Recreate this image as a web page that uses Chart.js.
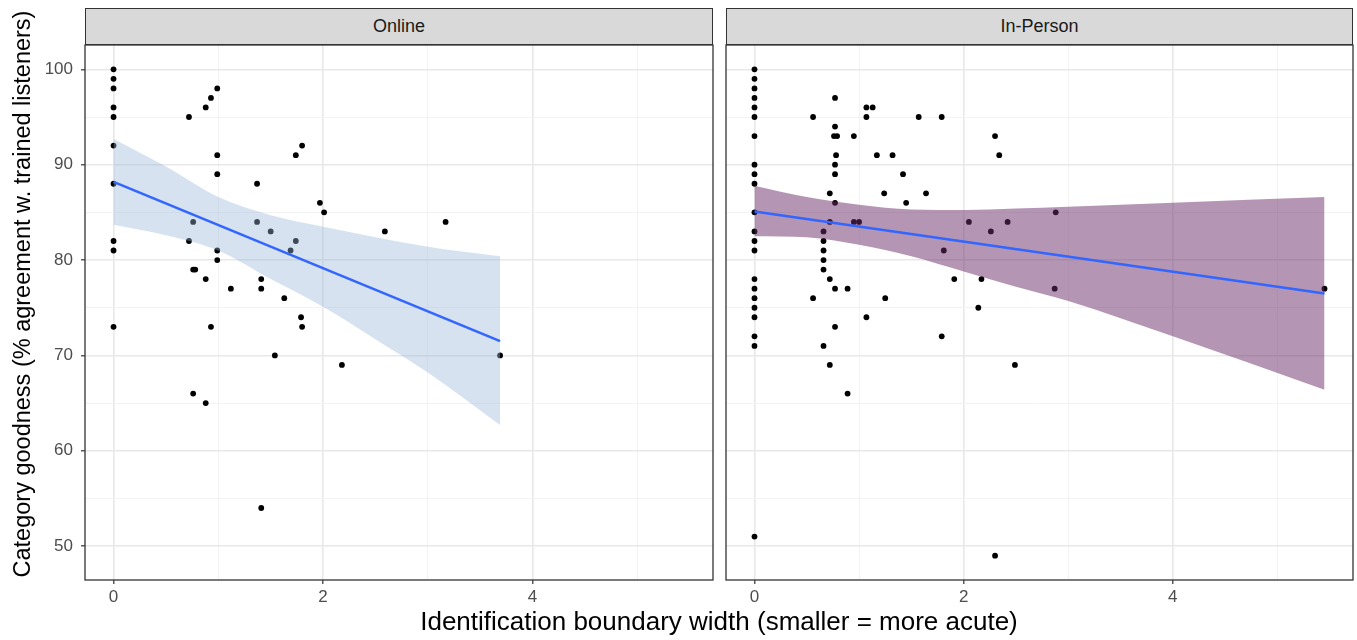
<!DOCTYPE html>
<html>
<head>
<meta charset="utf-8">
<script src="https://cdn.jsdelivr.net/npm/chart.js@4.4.1/dist/chart.umd.min.js"></script>
<style>
  body { margin: 0; background: #fff; font-family: "Liberation Sans", Arial, sans-serif; }
  #wrap { position: relative; width: 1357px; height: 640px; overflow: hidden; }
  #wrap canvas { position: absolute; }
  .strip {
    position: absolute; top: 8px; height: 37px; box-sizing: border-box;
    background: #d9d9d9; border: 1.3px solid #333; color: #1a1a1a;
    font-size: 18px; line-height: 35px; text-align: center;
  }
  #xtitle {
    position: absolute; left: 85px; width: 1268px; top: 606px;
    font-size: 26px; line-height: 30px; text-align: center; color: #000;
  }
  #ytitle {
    position: absolute; left: -278px; top: 279px; width: 600px; height: 30px;
    font-size: 23.5px; line-height: 30px; text-align: center; color: #000;
    transform: rotate(-90deg); white-space: nowrap;
  }
</style>
</head>
<body>
<div id="wrap">
  <canvas id="onlineChart" width="718" height="575" style="left:0;top:40px"></canvas>
  <canvas id="personChart" width="637" height="575" style="left:720px;top:40px"></canvas>
  <div class="strip" style="left:85px;width:628px">Online</div>
  <div class="strip" style="left:726px;width:627px">In-Person</div>
  <div id="ytitle">Category goodness (% agreement w. trained listeners)</div>
  <div id="xtitle">Identification boundary width (smaller = more acute)</div>
</div>
<script>
/* ── Data ───────────────────────────────────────────────────── */
const onlineX = [0, 0, 0, 0, 0, 0, 0, 0, 0, 0,
    0.72, 0.88, 0.93, 0.99, 0.99, 0.99, 1.37, 1.74, 1.80, 1.97, 2.01, 2.59,
    0.76, 0.72, 1.37, 1.50, 1.74, 1.69, 0.99, 0.99, 0.76, 0.78, 0.88, 1.12,
    1.41, 1.41, 1.63, 1.79, 1.80, 0.93, 1.54, 2.18, 0.76, 0.88, 1.41, 3.17, 3.69];
const onlineY = [100, 99, 98, 96, 95, 92, 88, 82, 81, 73,
    95, 96, 97, 98, 91, 89, 88, 91, 92, 86, 85, 83,
    84, 82, 84, 83, 82, 81, 81, 80, 79, 79, 78, 77,
    78, 77, 76, 74, 73, 73, 70, 69, 66, 65, 54, 84, 70];

const personX = [0, 0, 0, 0, 0, 0, 0, 0, 0, 0, 0, 0, 0, 0, 0, 0, 0, 0, 0, 0, 0, 0,
    0.77, 0.56, 0.77, 0.76, 0.79, 0.95, 0.78, 0.77, 0.77, 0.72, 0.77, 0.72, 0.95, 1.00,
    0.66, 0.66, 0.66, 0.66, 0.66, 0.72, 0.77, 0.89, 0.56, 0.77, 0.66, 0.72, 0.89,
    1.07, 1.13, 1.07, 1.57, 1.79, 1.17, 1.32, 1.42, 1.24, 1.64, 1.45, 2.05, 1.81,
    1.91, 1.25, 1.07, 1.79,
    2.30, 2.34, 2.88, 2.42, 2.26, 2.17, 2.87, 2.14, 2.49, 2.30, 5.45];
const personY = [100, 99, 98, 97, 96, 95, 93, 90, 89, 88, 85, 83, 82, 81, 78, 77, 76, 75, 74, 72, 71, 51,
    97, 95, 94, 93, 93, 93, 91, 90, 89, 87, 86, 84, 84, 84,
    83, 82, 81, 80, 79, 78, 77, 77, 76, 73, 71, 69, 66,
    96, 96, 95, 95, 95, 91, 91, 89, 87, 87, 86, 84, 81,
    78, 76, 74, 72,
    93, 91, 85, 84, 83, 78, 77, 75, 69, 49, 77];

// linear fit + confidence band, read at a few x positions
const onlineBandX     = [0, 0.5, 1, 1.5, 2, 2.5, 3, 3.69];
const onlineBandUpper = [92.7, 89.8, 86.6, 84.7, 83.5, 82.4, 81.4, 80.4];
const onlineBandLower = [83.7, 82.6, 81.0, 78.0, 75.1, 71.7, 68.2, 62.7];
const onlineFitX = [0, 3.69];
const onlineFitY = [88.2, 71.5];

const personBandX     = [0, 0.5, 1, 1.5, 2, 2.5, 3, 4, 5.45];
const personBandUpper = [87.8, 86.6, 85.8, 85.3, 85.25, 85.4, 85.6, 86.0, 86.6];
const personBandLower = [82.5, 82.4, 81.6, 80.4, 78.8, 77.2, 75.7, 72.0, 66.4];
const personFitX = [0, 5.45];
const personFitY = [85.1, 76.5];

const xGridValues  = [0, 1, 2, 3, 4, 5];
const xLabelValues = [0, 2, 4];
const yGridValues  = [50, 55, 60, 65, 70, 75, 80, 85, 90, 95, 100];
const yLabelValues = [50, 60, 70, 80, 90, 100];

/* ── Shared styling ─────────────────────────────────────────── */
const palette = {
    point:     '#000000',
    fit:       '#3366FF',
    onlineFill:'rgba(152, 183, 217, 0.4)',
    personFill:'rgba(105, 45, 105, 0.5)',
    gridMajor: '#e8e8e8',
    gridMinor: '#f2f2f2',
    axis:      '#333333',
    text:      '#4d4d4d',
};
const xRange = { min: -0.2725, max: 5.7225 };
const yRange = { min: 46.45, max: 102.55 };

const pts = (xs, ys) => xs.map((x, i) => ({ x, y: ys[i] }));

const panelBorder = {
    id: 'panelBorder',
    afterDraw(chart) {
        const { ctx, chartArea: a } = chart;
        ctx.save();
        ctx.strokeStyle = palette.axis;
        ctx.lineWidth = 1.3;
        ctx.strokeRect(a.left, a.top, a.right - a.left, a.bottom - a.top);
        ctx.restore();
    },
};

function gridOpts(majors, withTicks) {
    const isMajor = c => c.tick && majors.includes(c.tick.value);
    return {
        color: c => isMajor(c) ? palette.gridMajor : palette.gridMinor,
        lineWidth: c => isMajor(c) ? 1.6 : 0.9,
        drawTicks: withTicks,
        tickLength: 4,
        tickWidth: 1.2,
        tickColor: c => isMajor(c) ? palette.axis : 'rgba(0,0,0,0)',
    };
}

function buildChart(canvasId, o) {
    return new Chart(document.getElementById(canvasId), {
        type: 'scatter',
        data: {
            datasets: [
                {
                    data: pts(o.x, o.y),
                    backgroundColor: palette.point,
                    borderWidth: 0,
                    pointRadius: 2.9,
                    order: 3,
                },
                {
                    data: pts(o.bandX, o.upper),
                    showLine: true, pointRadius: 0, borderWidth: 0,
                    cubicInterpolationMode: 'monotone',
                    order: 2,
                },
                {
                    data: pts(o.bandX, o.lower),
                    showLine: true, pointRadius: 0, borderWidth: 0,
                    cubicInterpolationMode: 'monotone',
                    fill: '-1',
                    backgroundColor: o.fill,
                    order: 1,
                },
                {
                    data: pts(o.fitX, o.fitY),
                    showLine: true, pointRadius: 0,
                    borderColor: palette.fit, borderWidth: 2.6,
                    order: 0,
                },
            ],
        },
        options: {
            responsive: false,
            animation: false,
            events: [],
            layout: { padding: { top: 5, right: o.padRight, left: 0, bottom: 0 } },
            plugins: { legend: { display: false }, tooltip: { enabled: false } },
            scales: {
                x: {
                    type: 'linear',
                    min: xRange.min, max: xRange.max,
                    afterBuildTicks: ax => { ax.ticks = xGridValues.map(v => ({ value: v })); },
                    afterFit: ax => { ax.height = 35; ax.paddingLeft = 0; ax.paddingRight = 0; },
                    border: { display: false },
                    grid: gridOpts(xLabelValues, true),
                    ticks: {
                        autoSkip: false, maxRotation: 0, padding: 3,
                        color: palette.text,
                        font: { family: 'Liberation Sans', size: 17 },
                        callback: v => xLabelValues.includes(v) ? String(v) : '',
                    },
                },
                y: {
                    type: 'linear',
                    min: yRange.min, max: yRange.max,
                    afterBuildTicks: ax => { ax.ticks = yGridValues.map(v => ({ value: v })); },
                    afterFit: ax => { ax.width = o.yWidth; ax.paddingTop = 0; ax.paddingBottom = 0; },
                    border: { display: false },
                    grid: gridOpts(yLabelValues, o.showY),
                    ticks: {
                        display: o.showY,
                        autoSkip: false, padding: 8,
                        color: palette.text,
                        font: { family: 'Liberation Sans', size: 17 },
                        callback: v => yLabelValues.includes(v) ? String(v) : '',
                    },
                },
            },
        },
        plugins: [panelBorder],
    });
}

/* ── Online panel ───────────────────────────────────────────── */
buildChart('onlineChart', {
    x: onlineX, y: onlineY,
    bandX: onlineBandX, upper: onlineBandUpper, lower: onlineBandLower,
    fitX: onlineFitX, fitY: onlineFitY,
    fill: palette.onlineFill,
    yWidth: 85, showY: true, padRight: 5,
});

/* ── In-Person panel ────────────────────────────────────────── */
buildChart('personChart', {
    x: personX, y: personY,
    bandX: personBandX, upper: personBandUpper, lower: personBandLower,
    fitX: personFitX, fitY: personFitY,
    fill: palette.personFill,
    yWidth: 6, showY: false, padRight: 4,
});
</script>
</body>
</html>
